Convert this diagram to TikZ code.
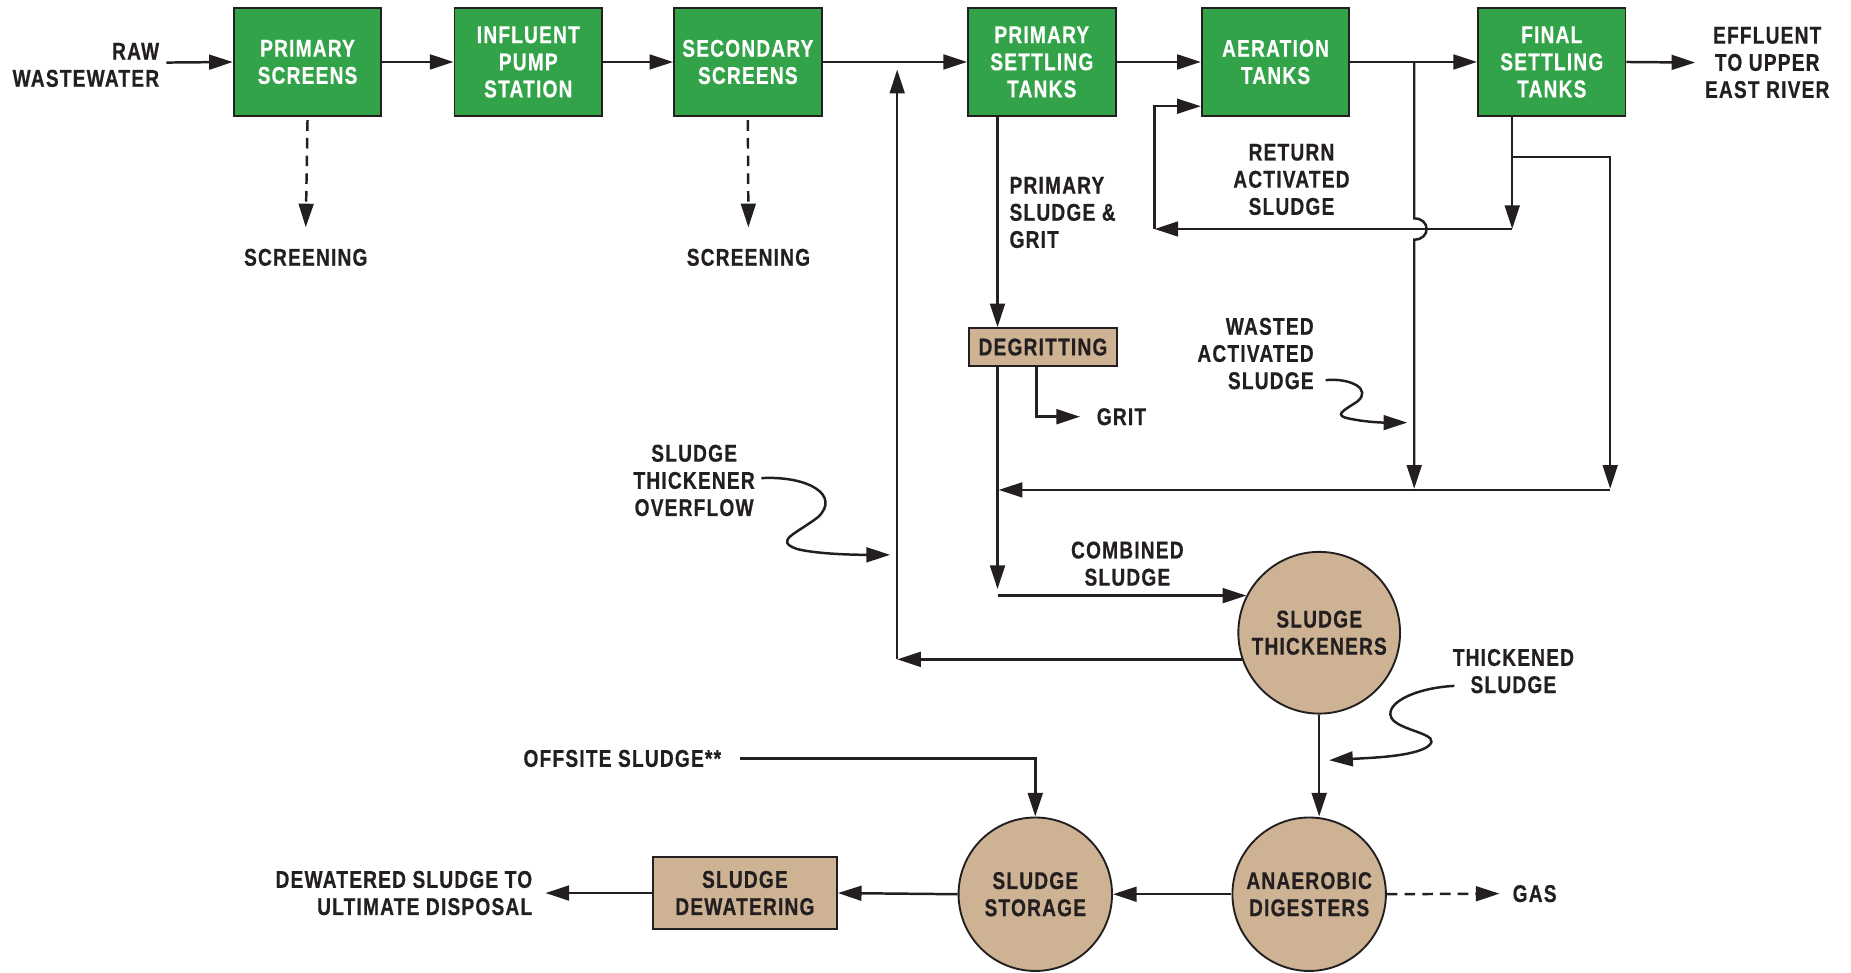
\documentclass[tikz,border=0pt]{standalone}
\usepackage{fontspec}
\setmainfont{Liberation Sans}[FakeStretch=0.79, LetterSpace=5, FakeBold=0.6]
\usetikzlibrary{arrows.meta,calc}
\definecolor{boxgreen}{RGB}{51,163,74}
\definecolor{tanfill}{RGB}{205,178,148}
\definecolor{ink}{RGB}{35,31,32}
\begin{document}
\begin{tikzpicture}[x=1pt,y=-1pt,
  txt/.style={font=\fontsize{20.5}{23}\selectfont\bfseries, text=ink, inner sep=0pt, align=center},
  gbox/.style={txt, draw=ink, line width=1.6pt, fill=boxgreen, text=white, minimum width=125pt, minimum height=91pt},
  tbox/.style={txt, draw=ink, line width=1.6pt, fill=tanfill},
  tank/.style={txt, draw=ink, line width=1.6pt, fill=tanfill, circle, minimum size=130pt},
  flow/.style={draw=ink, line width=2.1pt},
  arr/.style={flow, -{Triangle[length=20pt,width=12.5pt]}},
  darr/.style={arr, dash pattern=on 9pt off 6pt},
]
\useasboundingbox (0,0) rectangle (1568,824);

% process units
\node[gbox] (ps) at (260.5,52.5) {PRIMARY\\SCREENS};
\node[gbox] (ips) at (447.5,52.5) {INFLUENT\\PUMP\\STATION};
\node[gbox] (ss) at (633.5,52.5) {SECONDARY\\SCREENS};
\node[gbox] (pst) at (882.5,52.5) {PRIMARY\\SETTLING\\TANKS};
\node[gbox] (at) at (1080.5,52.5) {AERATION\\TANKS};
\node[gbox] (fst) at (1314.5,52.5) {FINAL\\SETTLING\\TANKS};
\node[tbox, minimum width=125pt, minimum height=32pt] (deg) at (883.5,294) {DEGRITTING};
\node[tank, minimum size=137pt] (thick) at (1117.5,536) {SLUDGE\\THICKENERS};
\node[tank] (stor) at (877,757.5) {SLUDGE\\STORAGE};
\node[tank] (dig) at (1109,757.5) {ANAEROBIC\\DIGESTERS};
\node[tbox, minimum width=156pt, minimum height=61pt] (dew) at (631,756.5) {SLUDGE\\DEWATERING};

% labels
\node[txt, anchor=east, align=right] (raw) at (135,55) {RAW\\WASTEWATER};
\node[txt] (scr1) at (259,218) {SCREENING};
\node[txt] (scr2) at (634,218) {SCREENING};
\node[txt] (eff) at (1497,53) {EFFLUENT\\TO UPPER\\EAST RIVER};
\node[txt, anchor=west, align=left] (psg) at (855,180) {PRIMARY\\SLUDGE \&\\GRIT};
\node[txt] (ras) at (1094,152) {RETURN\\ACTIVATED\\SLUDGE};
\node[txt] (grit) at (950,353) {GRIT};
\node[txt, anchor=east, align=right] (was) at (1113,299.5) {WASTED\\ACTIVATED\\SLUDGE};
\node[txt] (sto) at (588,407) {SLUDGE\\THICKENER\\OVERFLOW};
\node[txt] (comb) at (955,477.5) {COMBINED\\SLUDGE};
\node[txt] (ths) at (1282,568.5) {THICKENED\\SLUDGE};
\node[txt, anchor=east] (offs) at (611,642.5) {OFFSITE SLUDGE**};
\node[txt, anchor=east, align=right] (dsd) at (451,756.5) {DEWATERED SLUDGE TO\\ULTIMATE DISPOSAL};
\node[txt] (gas) at (1300,757) {GAS};

% helper coordinates
\coordinate (rawout) at (141,53);
\coordinate (effin) at (1436,53);
\coordinate (c760) at (760,0);
\coordinate (c845) at (845,0);
\coordinate (c878) at (878,0);
\coordinate (c1198) at (1198,0);
\coordinate (c1281) at (1281,0);
\coordinate (c1364) at (1364,0);
\coordinate (retL) at (978,194);
\coordinate (r90) at (978,90);
\coordinate (br) at (1281,133);
\coordinate (wasteR) at (1364,415);
\coordinate (ovtop) at (760,59);
\coordinate (combdown) at (845,499);

% main line
\draw[arr] (rawout) -- (ps.west);
\draw[arr] (ps.east) -- (ips.west);
\draw[arr] (ips.east) -- (ss.west);
\draw[arr] (ss.east) -- (pst.west);
\draw[arr] (pst.east) -- (at.west);
\draw[arr] (at.east) -- (fst.west);
\draw[arr] (fst.east) -- (effin);

% screenings
\draw[darr] ($(ps.south)+(0,3)$) -- ($(scr1.north)+(0,-18)$);
\draw[darr] ($(ss.south)+(0,3)$) -- ($(scr2.north)+(0,-18)$);

% primary sludge
\draw[arr] (pst.south -| c845) -- (deg.north -| c845);
\draw[arr] (deg.south -| c845) -- (combdown);
\draw[arr] (deg.south -| c878) -- (c878 |- grit) -- ($(grit.west)+(-14,0)$);
\draw[arr] (c845 |- thick.153) -- (thick.153);

% overflow
\draw[arr] (thick.199) -- (c760 |- thick.199);
\draw[arr] (c760 |- thick.199) -- (ovtop);

% activated sludge
\draw[arr] (c1198 |- at.east) -- (1198,185) .. controls (1212,185) and (1212,203) .. (1198,203) -- (1198,414);
\draw[arr] (fst.south -| c1281) -- (c1281 |- retL);
\draw[arr] (c1281 |- retL) -- (retL);
\draw[arr] (retL) -- (r90) -- (at.west |- r90);
\draw[arr] (br) -- (c1364 |- br) -- (1364,414);
\draw[arr] (wasteR) -- ($(c845 |- wasteR)+(1,0)$);

% callout squiggles
\draw[arr] (645,405) .. controls (686,403) and (712,420) .. (693,438) .. controls (675,452) and (655,458) .. (675,465) .. controls (690,469) and (720,470) .. (754,470);
\draw[arr] (1123,322) .. controls (1145,320) and (1162,330) .. (1150,340) .. controls (1138,348) and (1128,352) .. (1145,355) .. controls (1160,358) and (1175,358) .. (1192,358);
\draw[arr] (1232,581) .. controls (1195,583) and (1170,598) .. (1180,610) .. controls (1190,620) and (1222,622) .. (1210,632) .. controls (1198,641) and (1160,642) .. (1126,644);

% sludge processing
\draw[arr] (thick.south) -- (thick.south |- dig.north);
\draw[arr] ($(offs.east)+(16,0)$) -- (stor.north |- offs.east) -- (stor.north);
\draw[arr] (dig.west) -- (stor.east);
\draw[arr] (stor.west) -- (dew.east);
\draw[arr] (dew.west) -- ($(dsd.east)+(11,0)$);
\draw[darr] (dig.east) -- ($(gas.west)+(-11,0)$);
\end{tikzpicture}
\end{document}
